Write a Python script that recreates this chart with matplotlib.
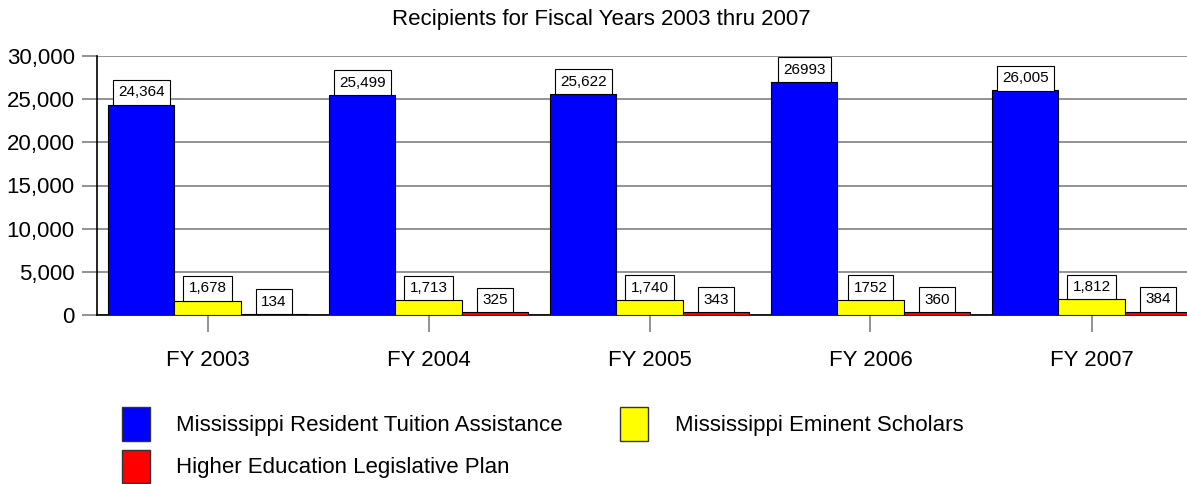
import matplotlib
matplotlib.use('Agg')
import matplotlib.pyplot as plt
from matplotlib.patches import Patch
from matplotlib.ticker import FuncFormatter

plt.rcParams['font.family'] = ['Liberation Sans', 'DejaVu Sans']

years = ['FY 2003', 'FY 2004', 'FY 2005', 'FY 2006', 'FY 2007']
series_names = ['Mississippi Resident Tuition Assistance',
                'Mississippi Eminent Scholars',
                'Higher Education Legislative Plan']
tuition = [24364, 25499, 25622, 26993, 26005]
eminent = [1678, 1713, 1740, 1752, 1812]
legislative = [134, 325, 343, 360, 384]
tuition_labels = ['24,364', '25,499', '25,622', '26993', '26,005']
eminent_labels = ['1,678', '1,713', '1,740', '1752', '1,812']
legislative_labels = ['134', '325', '343', '360', '384']
colors = ['#0000ff', '#ffff00', '#ff0000']

fig = plt.figure(figsize=(11.87, 4.84), dpi=100)
# axes runs past the right edge like the original
ax = fig.add_axes([97 / 1187, 169 / 484, 1105 / 1187, 259 / 484])

w = 0.3
x = list(range(len(years)))
all_vals = [tuition, eminent, legislative]
all_labels = [tuition_labels, eminent_labels, legislative_labels]
for k, (vals, labs) in enumerate(zip(all_vals, all_labels)):
    pos = [i + (k - 1) * w for i in x]
    ax.bar(pos, vals, width=w, color=colors[k], edgecolor='black',
           linewidth=0.8, zorder=3)
    for p, v, lab in zip(pos, vals, labs):
        ax.annotate(lab, (p, v), xytext=(0, 3.8), textcoords='offset points',
                    ha='center', va='bottom', fontsize=11, zorder=4,
                    bbox=dict(boxstyle='square,pad=0.35', fc='white',
                              ec='black', lw=0.8))

ax.set_xlim(-0.5, 4.5)
ax.set_ylim(0, 30000)
ax.set_yticks(range(0, 30001, 5000))
ax.yaxis.set_major_formatter(FuncFormatter(lambda v, p: '{:,.0f}'.format(v)))
ax.set_xticks(x)
ax.set_xticklabels(years)
ax.yaxis.grid(True, color='#808080', linewidth=1.2, zorder=0)
ax.tick_params(axis='y', length=11, width=1.2, color='#808080', pad=5,
               labelsize=16)
ax.tick_params(axis='x', length=12, width=1.2, color='#808080', pad=13,
               labelsize=16)
for s in ['top', 'right']:
    ax.spines[s].set_visible(False)
ax.spines['left'].set_linewidth(1.2)
ax.spines['bottom'].set_linewidth(1.2)

fig.text(601 / 1187, 1 - 20 / 484, 'Recipients for Fiscal Years 2003 thru 2007',
         ha='center', va='center', fontsize=16)

handles = [Patch(facecolor=colors[0], edgecolor='#333333', label=series_names[0]),
           Patch(facecolor=colors[2], edgecolor='#333333', label=series_names[2]),
           Patch(facecolor=colors[1], edgecolor='#333333', label=series_names[1])]
fig.legend(handles=handles, ncol=2, loc='upper left',
           bbox_to_anchor=(122 / 1187, 1 - 407 / 484), frameon=False,
           fontsize=16, borderpad=0, borderaxespad=0, handlelength=1.27,
           handleheight=1.95, handletextpad=1.18, columnspacing=2.57,
           labelspacing=0.4)

fig.savefig('out.png', dpi=100)
